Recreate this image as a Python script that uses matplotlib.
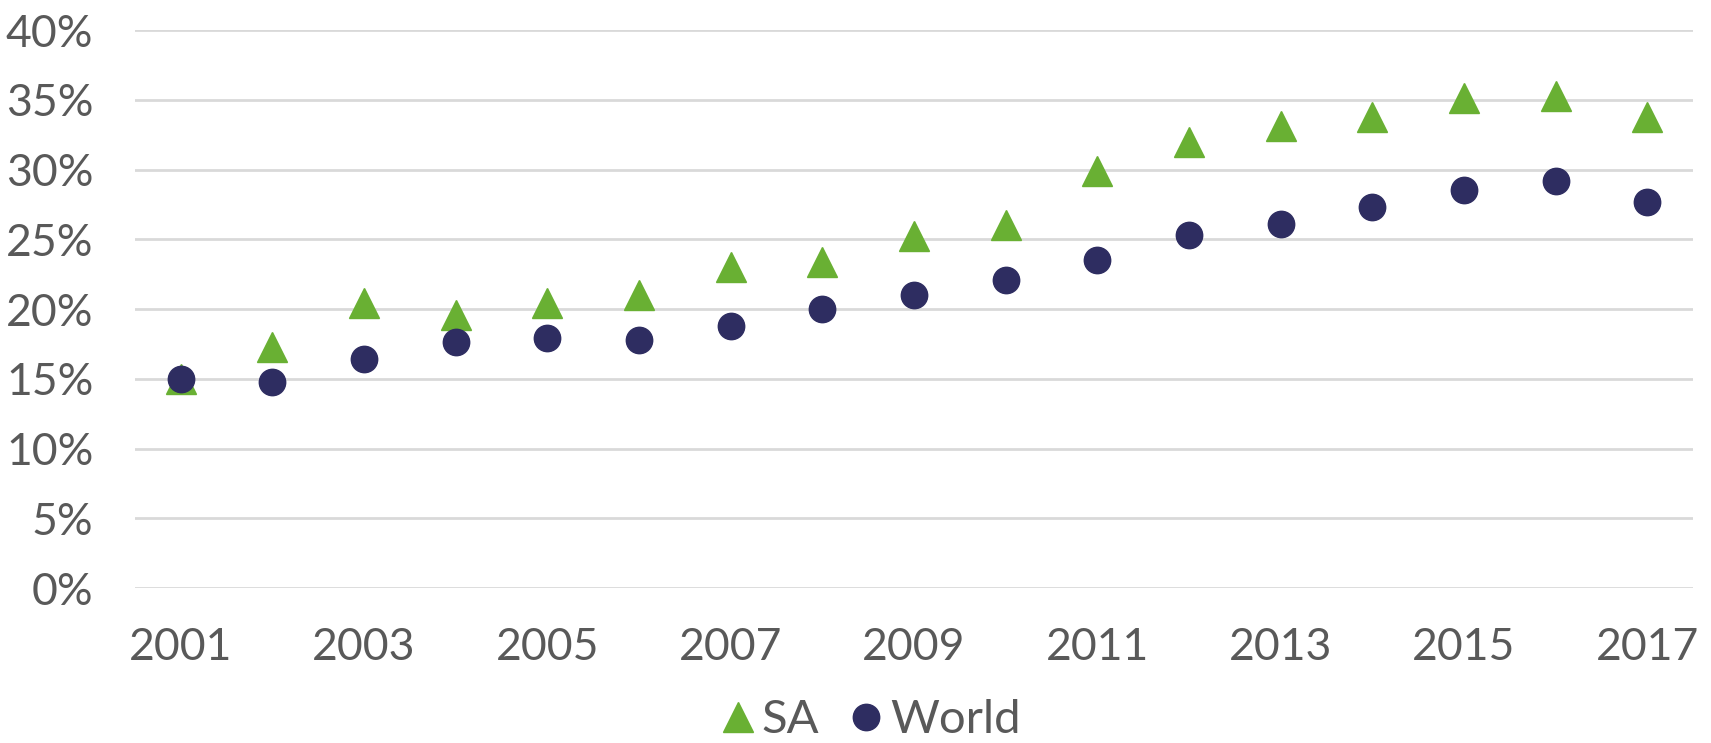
import matplotlib
matplotlib.use("Agg")
import matplotlib.pyplot as plt
from matplotlib.ticker import FuncFormatter, MultipleLocator

years = list(range(2001, 2018))
sa = [15.0, 17.3, 20.4, 19.6, 20.4, 21.0, 23.0, 23.4, 25.2, 26.0, 29.9, 32.0, 33.1, 33.8, 35.1, 35.3, 33.8]
world = [15.0, 14.8, 16.4, 17.6, 17.9, 17.8, 18.8, 20.0, 21.0, 22.1, 23.5, 25.3, 26.1, 27.3, 28.5, 29.2, 27.7]
xtick_labels = ["2001", "2003", "2005", "2007", "2009", "2011", "2013", "2015", "2017"]

plt.rcParams['font.family'] = ['Lato', 'DejaVu Sans']
txt = '#595959'

fig = plt.figure(figsize=(17.11, 7.43), dpi=100)
ax = fig.add_axes([0.0789, 0.2086, 0.9106, 0.751])

ax.plot(years, sa, linestyle='none', marker='^', markersize=21, color='#69B033', label='SA', zorder=3)
ax.plot(years, world, linestyle='none', marker='o', markersize=19, color='#2E2D61', label='World', zorder=4)

ax.set_xlim(2000.5, 2017.5)
ax.set_ylim(0, 40)
ax.yaxis.set_major_locator(MultipleLocator(5))
ax.yaxis.set_major_formatter(FuncFormatter(lambda v, p: f"{int(v)}%"))
ax.set_xticks([int(s) for s in xtick_labels])
ax.set_xticklabels(xtick_labels)
ax.grid(axis='y', color='#D9D9D9', linewidth=2)
ax.set_axisbelow(True)
for s in ax.spines.values():
    s.set_visible(False)
ax.tick_params(axis='both', length=0, labelsize=32, labelcolor=txt)
ax.tick_params(axis='y', pad=30)
ax.tick_params(axis='x', pad=28)

fig.legend(loc='lower center', bbox_to_anchor=(0.507, -0.055), ncol=2, frameon=False,
           fontsize=34, labelcolor=txt, handletextpad=0.0, columnspacing=0.5,
           handlelength=1.0, markerscale=1.0)

fig.savefig('out.png', dpi=100, facecolor='white')
